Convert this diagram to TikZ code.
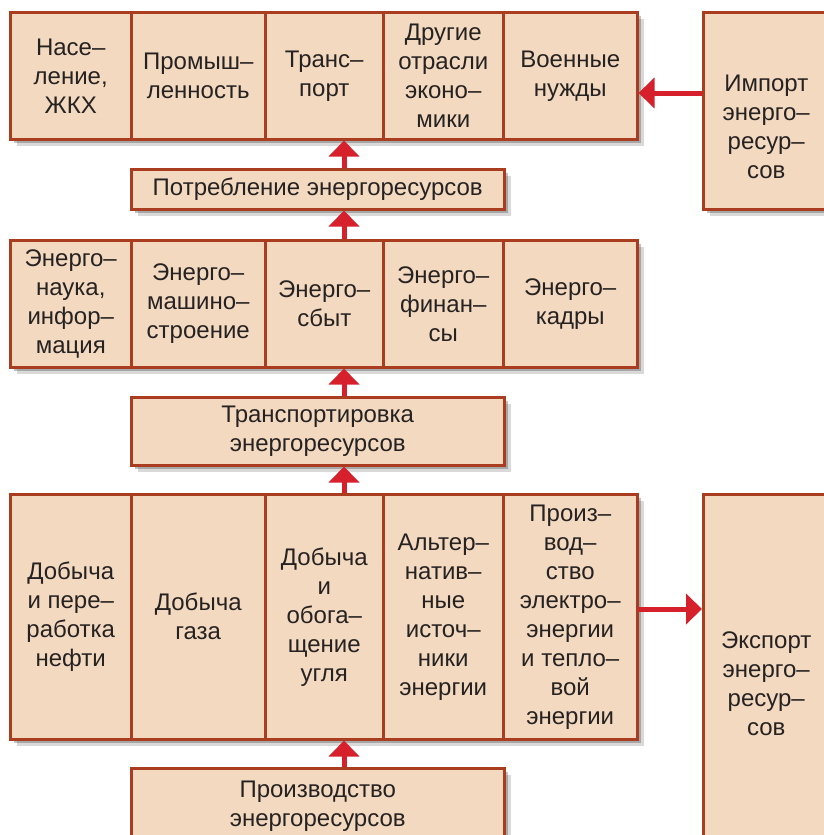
\documentclass[tikz,border=0pt]{standalone}
\usepackage{fontspec}
\setmainfont{Liberation Sans}
\usetikzlibrary{arrows.meta, positioning, shadows}
\definecolor{BG}{RGB}{242,217,192}
\definecolor{BR}{RGB}{170,60,32}
\definecolor{AR}{RGB}{214,32,44}
\definecolor{TX}{RGB}{38,34,34}

\begin{document}
\begin{tikzpicture}[x=1pt, y=-1pt,
  cell/.style={draw=BR, fill=BG, line width=2.5pt, inner sep=0pt, anchor=north west,
               align=center, text=TX, font=\fontsize{24}{29}\selectfont,
               drop shadow={shadow xshift=7pt, shadow yshift=-7pt, fill=black!60, opacity=.25},
               drop shadow={shadow xshift=4pt, shadow yshift=-4pt, fill=black!70, opacity=.35}},
  txt/.style={align=center, text=TX, font=\fontsize{24}{29}\selectfont},
  flow/.style={draw=AR, line width=5pt, -{Triangle[length=16pt, width=30pt]}}
]
\useasboundingbox (0,0) rectangle (824,835);
\clip (0,0) rectangle (824,835);

% Consumers
\node[cell, minimum width=121pt, minimum height=127pt] (T1) at (9,11)   {Насе–\\ление,\\ЖКХ};
\node[cell, minimum width=134pt, minimum height=127pt] (T2) at (130,11) {Промыш–\\ленность};
\node[cell, minimum width=118pt, minimum height=127pt] (T3) at (264,11) {Транс–\\порт};
\node[cell, minimum width=120pt, minimum height=127pt] (T4) at (382,11) {Другие\\отрасли\\эконо–\\мики};
\node[cell, minimum width=134pt, minimum height=127pt] (T5) at (502,11) {Военные\\нужды};

\node[cell, minimum width=126pt, minimum height=197pt] (imp) at (702,11) {};
\node[txt] at ([yshift=-16pt]imp.center) {Импорт\\энерго–\\ресур–\\сов};

\node[cell, minimum width=373pt, minimum height=40pt] (potr) at (130,168) {Потребление энергоресурсов};

% Infrastructure
\node[cell, minimum width=121pt, minimum height=127pt] (M1) at (9,239)   {Энерго–\\наука,\\инфор–\\мация};
\node[cell, minimum width=134pt, minimum height=127pt] (M2) at (130,239) {Энерго–\\машино–\\строение};
\node[cell, minimum width=118pt, minimum height=127pt] (M3) at (264,239) {Энерго–\\сбыт};
\node[cell, minimum width=120pt, minimum height=127pt] (M4) at (382,239) {Энерго–\\финан–\\сы};
\node[cell, minimum width=134pt, minimum height=127pt] (M5) at (502,239) {Энерго–\\кадры};

\node[cell, minimum width=373pt, minimum height=68pt] (trans) at (130,396) {Транспортировка\\энергоресурсов};

% Production
\node[cell, minimum width=121pt, minimum height=245pt] (B1) at (9,493)   {Добыча\\и пере–\\работка\\нефти};
\node[cell, minimum width=134pt, minimum height=245pt] (B2) at (130,493) {Добыча\\газа};
\node[cell, minimum width=118pt, minimum height=245pt] (B3) at (264,493) {Добыча\\и\\обога–\\щение\\угля};
\node[cell, minimum width=120pt, minimum height=245pt] (B4) at (382,493) {Альтер–\\натив–\\ные\\источ–\\ники\\энергии};
\node[cell, minimum width=134pt, minimum height=245pt] (B5) at (502,493) {Произ–\\вод–\\ство\\электро–\\энергии\\и тепло–\\вой\\энергии};

\node[cell, minimum width=126pt, minimum height=378pt] (exp) at (702,493) {Экспорт\\энерго–\\ресур–\\сов};

\node[cell, minimum width=373pt, minimum height=76pt] (prod) at (130,767) {Производство\\энергоресурсов};

% Arrows
\coordinate (spine) at (344,0);
\coordinate (iy) at (0,93);
\coordinate (ey) at (0,609);
\draw[flow] (prod.north -| spine)  -- (B3.south -| spine);
\draw[flow] (B3.north -| spine)    -- (trans.south -| spine);
\draw[flow] (trans.north -| spine) -- (M3.south -| spine);
\draw[flow] (M3.north -| spine)    -- (potr.south -| spine);
\draw[flow] (potr.north -| spine)  -- (T3.south -| spine);
\draw[flow] (imp.west |- iy) -- (T5.east |- iy);
\draw[flow] (B5.east |- ey)  -- (exp.west |- ey);
\end{tikzpicture}
\end{document}
